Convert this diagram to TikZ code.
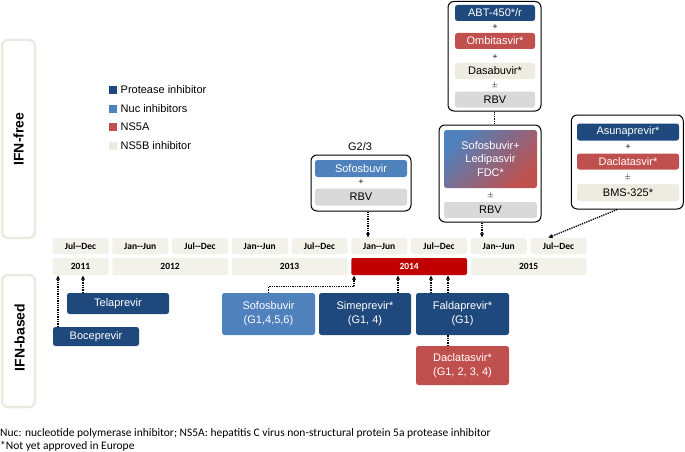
\documentclass[tikz,border=0pt]{standalone}
\usepackage{fontspec}
\setmainfont{Liberation Sans}
\newfontfamily\calfont{Carlito}
\usetikzlibrary{arrows.meta,calc}
\definecolor{dblue}{RGB}{31,73,125}
\definecolor{lblue}{RGB}{79,129,189}
\definecolor{nred}{RGB}{192,80,77}
\definecolor{beige}{RGB}{238,236,225}
\definecolor{rbvgrey}{RGB}{217,217,217}
\definecolor{cellc}{RGB}{242,241,234}
\definecolor{yred}{RGB}{192,0,0}
\definecolor{panelc}{RGB}{236,234,224}
\tikzset{
  box/.style={rectangle, rounded corners=2.5pt, inner sep=0pt, align=center, font=\fontsize{11}{14}\selectfont},
  pibox/.style={box, fill=dblue, text=white},
  nucbox/.style={box, fill=lblue, text=white},
  nsabox/.style={box, fill=nred, text=white},
  nsbbox/.style={box, fill=beige, text=black},
  rbvbox/.style={box, fill=rbvgrey, text=black},
  grp/.style={rectangle, draw=black, line width=1pt, rounded corners=6pt, fill=white, inner sep=0pt},
  cell/.style={rectangle, rounded corners=2pt, fill=cellc, inner sep=0pt, minimum height=16pt, font=\calfont\bfseries\fontsize{9.5}{11}\selectfont},
  conn/.style={densely dotted, line width=1.3pt, -{Latex[length=4.5pt,width=4.5pt]}},
  dline/.style={densely dotted, line width=1.3pt},
  sym/.style={inner sep=0pt, font=\fontsize{8.5}{9}\selectfont},
  panel/.style={rectangle, draw=panelc, line width=2.5pt, rounded corners=6pt, inner sep=0pt},
  plabel/.style={rotate=90, font=\bfseries\fontsize{14}{16}\selectfont},
  legsq/.style={rectangle, inner sep=0pt, minimum size=8pt},
  legtx/.style={anchor=west, inner sep=0pt, font=\fontsize{11}{13}\selectfont},
  foot/.style={anchor=west, inner sep=0pt, font=\calfont\fontsize{11.5}{13}\selectfont}
}
\begin{document}
\begin{tikzpicture}[x=1pt,y=-1pt]
\useasboundingbox (0,0) rectangle (685,452);

% side panels
\node[panel, minimum width=33pt, minimum height=198pt] (pfree) at (18.5,139) {};
\node[plabel] (lfree) at (pfree.center) {IFN-free};
\node[panel, minimum width=33pt, minimum height=132pt] (pbased) at (18.5,341) {};
\node[plabel] (lbased) at (19.5,337.5) {IFN-based};

% legend
\node[legsq, fill=dblue] (q1) at (113,90) {};
\node[legtx] (t1) at (120.5,90) {Protease inhibitor};
\node[legsq, fill=lblue] (q2) at (113,108.5) {};
\node[legtx] (t2) at (120.5,108.5) {Nuc inhibitors};
\node[legsq, fill=nred] (q3) at (113,126.5) {};
\node[legtx] (t3) at (120.5,126.5) {NS5A};
\node[legsq, fill=beige] (q4) at (113,145.5) {};
\node[legtx] (t4) at (120.5,145.5) {NS5B inhibitor};

% timeline row 1
\node[cell, minimum width=56pt] (c0) at (80.5,246) {Jul--Dec};
\node[cell, minimum width=56pt] (c1) at (140.25,246) {Jan--Jun};
\node[cell, minimum width=56pt] (c2) at (200,246) {Jul--Dec};
\node[cell, minimum width=56pt] (c3) at (259.75,246) {Jan--Jun};
\node[cell, minimum width=56pt] (c4) at (319.5,246) {Jul--Dec};
\node[cell, minimum width=56pt] (c5) at (379.25,246) {Jan--Jun};
\node[cell, minimum width=56pt] (c6) at (439,246) {Jul--Dec};
\node[cell, minimum width=56pt] (c7) at (498.75,246) {Jan--Jun};
\node[cell, minimum width=56pt] (c8) at (558.5,246) {Jul--Dec};
% timeline row 2
\node[cell, minimum width=56pt, minimum height=17pt] (y11) at (80.5,266.5) {2011};
\node[cell, minimum width=115.75pt, minimum height=17pt] (y12) at (170.125,266.5) {2012};
\node[cell, minimum width=115.75pt, minimum height=17pt] (y13) at (289.625,266.5) {2013};
\node[cell, minimum width=115.75pt, minimum height=17pt, fill=yred, text=white] (y14) at (409.125,266.5) {2014};
\node[cell, minimum width=115.75pt, minimum height=17pt] (y15) at (528.625,266.5) {2015};

% top: Sofosbuvir + RBV (G2/3)
\node[inner sep=0pt, font=\fontsize{11}{13}\selectfont] (g23) at (360,147) {G2/3};
\node[grp, minimum width=100pt, minimum height=56pt] (sofg) at (361,183) {};
\node[nucbox, minimum width=92pt, minimum height=17pt] (sofa) at (361,168.5) {Sofosbuvir};
\node[sym] (sofp) at (361,182.5) {+};
\node[rbvbox, minimum width=92pt, minimum height=17pt] (sofr) at (361,197) {RBV};

% top: ABT group
\node[grp, minimum width=93pt, minimum height=109.5pt] (abtg) at (494.5,56.25) {};
\node[pibox, minimum width=80pt, minimum height=16pt] (abt) at (495,13) {ABT-450*/r};
\node[sym] (abtp1) at (495,27) {+};
\node[nsabox, minimum width=80pt, minimum height=16pt] (omb) at (495,41) {Ombitasvir*};
\node[sym] (abtp2) at (495,57) {+};
\node[nsbbox, minimum width=80pt, minimum height=16pt] (dasa) at (495,71) {Dasabuvir*};
\node[sym] (abtpm) at (495,86) {$\pm$};
\node[rbvbox, minimum width=80pt, minimum height=16pt] (abtr) at (495,99.5) {RBV};

% top: Sofosbuvir+Ledipasvir group
\node[grp, minimum width=102pt, minimum height=97pt] (sflg) at (490,173.5) {};
\node[box, top color=lblue, bottom color=nred, shading angle=45, text=white, minimum width=93pt, minimum height=58pt, font=\fontsize{11}{13.3}\selectfont] (sfl) at (490.5,159) {Sofosbuvir+\\Ledipasvir\\FDC*};
\node[sym] (sflpm) at (490.5,195) {$\pm$};
\node[rbvbox, minimum width=93pt, minimum height=16pt] (sflr) at (490.5,210) {RBV};

% top: Asunaprevir group
\node[grp, minimum width=112pt, minimum height=94pt] (asug) at (627.25,162) {};
\node[pibox, minimum width=102pt, minimum height=17pt] (asu) at (628,132) {Asunaprevir*};
\node[sym] (asup) at (628,147.5) {+};
\node[nsabox, minimum width=102pt, minimum height=16pt] (dact) at (628,161.5) {Daclatasvir*};
\node[sym] (asupm) at (628,177.5) {$\pm$};
\node[nsbbox, minimum width=102pt, minimum height=17pt] (bms) at (628,192.5) {BMS-325*};

% top connectors
\draw[conn] ([xshift=7pt]sofg.south) -- ([xshift=7pt]sofg.south |- c5.north);
\draw[dline] (abtg.south) -- (abtg.south |- sflg.north);
\draw[conn] ([xshift=-8pt]sflg.south) -- ([xshift=-8pt]sflg.south |- c7.north);
\draw[conn] ([xshift=-10pt]asug.south) -- ([xshift=-10.5pt]c8.north);

% bottom boxes
\node[pibox, minimum width=102pt, minimum height=21pt] (telap) at (118,303.5) {Telaprevir};
\node[pibox, minimum width=86pt, minimum height=19pt] (bocep) at (96,336.5) {Boceprevir};
\node[nucbox, minimum width=93pt, minimum height=42pt] (sofb) at (268.5,314) {Sofosbuvir\\(G1,4,5,6)};
\node[pibox, minimum width=92pt, minimum height=42pt] (simep) at (365,314) {Simeprevir*\\(G1, 4)};
\node[nsabox, minimum width=93pt, minimum height=39pt] (daclb) at (462.5,365.5) {Daclatasvir*\\(G1, 2, 3, 4)};
\draw[conn] ([xshift=-14.5pt]daclb.north) -- ([xshift=-14.5pt]daclb.north |- y14.south);
\node[pibox, minimum width=93pt, minimum height=42pt] (faldap) at (462.5,314) {Faldaprevir*\\(G1)};

% bottom connectors
\draw[conn] ([xshift=-38pt]bocep.north) -- ([xshift=-38pt]bocep.north |- y11.south);
\draw[conn] ([xshift=-35pt]telap.north) -- ([xshift=-35pt]telap.north |- y11.south);
\draw[conn] (sofb.north) -- ++(0,-6) -| ([xshift=3pt]y14.south west);
\draw[conn] ([xshift=33pt]simep.north) -- ([xshift=33pt]simep.north |- y14.south);
\draw[conn] ([xshift=-31.5pt]faldap.north) -- ([xshift=-31.5pt]faldap.north |- y14.south);

% footnotes
\node[foot] (f1) at (0,433) {Nuc: nucleotide polymerase inhibitor; NS5A: hepatitis C virus non-structural protein 5a protease inhibitor};
\node[foot] (f2) at (0,446) {*Not yet approved in Europe};
\end{tikzpicture}
\end{document}
